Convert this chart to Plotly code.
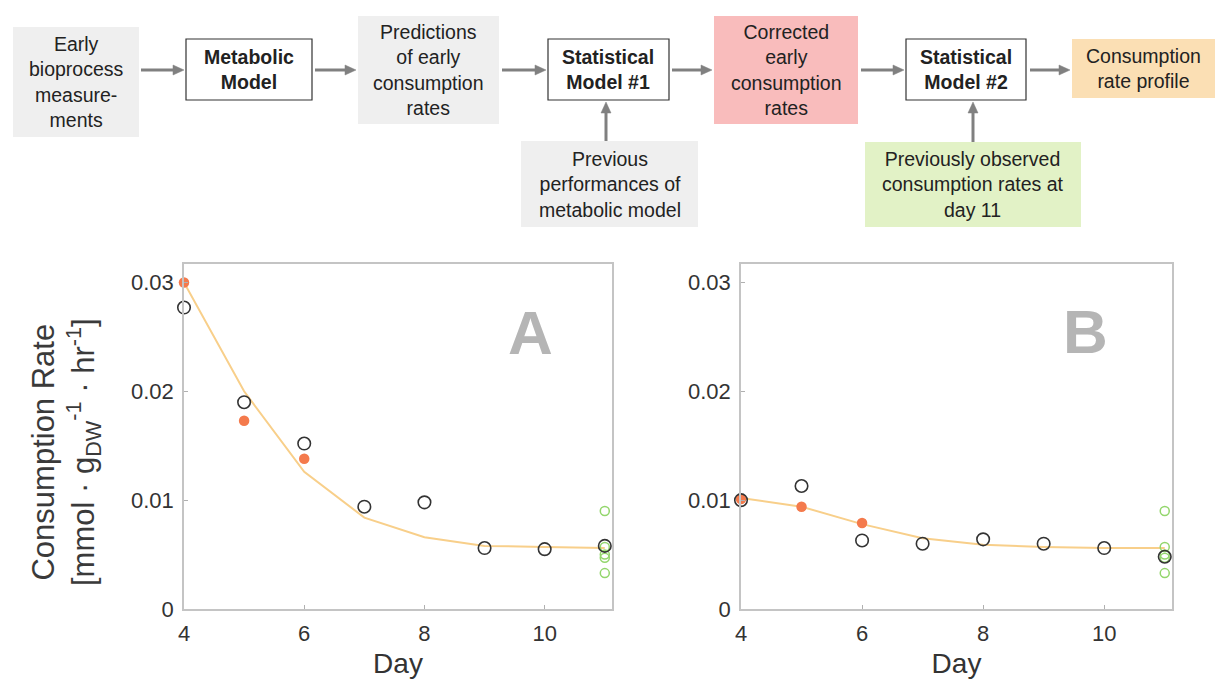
import plotly.graph_objects as go

W, H = 1215, 684

# ---------------- data ----------------
days = [4, 5, 6, 7, 8, 9, 10, 11]
early_days = [4, 5, 6]

obs_A = [0.0277, 0.0190, 0.0152, 0.0094, 0.0098, 0.0056, 0.0055, 0.0058]
corr_A = [0.0300, 0.0173, 0.0138]
fit_A = [0.0300, 0.0200, 0.0126, 0.0084, 0.0066, 0.0058, 0.0057, 0.0056]

obs_B = [0.0100, 0.0113, 0.0063, 0.0060, 0.0064, 0.0060, 0.0056, 0.0048]
corr_B = [0.0101, 0.0094, 0.0079]
fit_B = [0.0102, 0.0094, 0.0078, 0.0065, 0.0059, 0.0057, 0.0056, 0.0056]

prev_day11 = [0.0090, 0.0057, 0.0050, 0.0047, 0.0033]

x_ticks = [4, 6, 8, 10]
y_ticks = [0, 0.01, 0.02, 0.03]
y_ticklabels = ["0", "0.01", "0.02", "0.03"]

FONT = "Liberation Sans, Arial, sans-serif"


def px(x):
    return x / W


def py(y):
    return 1 - y / H


fig = go.Figure()

panels = [
    ("x", "y", obs_A, corr_A, fit_A),
    ("x2", "y2", obs_B, corr_B, fit_B),
]
for xa, ya, obs, corr, fit in panels:
    fig.add_trace(go.Scatter(x=days, y=fit, mode="lines", xaxis=xa, yaxis=ya,
                             line=dict(color="#f8cf8a", width=2), showlegend=False,
                             cliponaxis=False))
    fig.add_trace(go.Scatter(x=early_days, y=corr, mode="markers", xaxis=xa, yaxis=ya,
                             marker=dict(size=10.5, color="#f47a4c", line=dict(width=0)),
                             showlegend=False, cliponaxis=False))
    fig.add_trace(go.Scatter(x=[11] * len(prev_day11), y=prev_day11, mode="markers",
                             xaxis=xa, yaxis=ya,
                             marker=dict(size=9, color="#93d66c", symbol="circle-open",
                                         line=dict(width=1.5)),
                             showlegend=False, cliponaxis=False))
    fig.add_trace(go.Scatter(x=days, y=obs, mode="markers", xaxis=xa, yaxis=ya,
                             marker=dict(size=12.5, symbol="circle-open", color="#333333",
                                         line=dict(width=1.6)),
                             showlegend=False, cliponaxis=False))

axis_common = dict(showgrid=False, zeroline=False, showline=True, linecolor="#c4c4c4",
                   linewidth=1.5, mirror=True, ticks="inside", ticklen=4, tickcolor="#b0b0b0",
                   tickfont=dict(family=FONT, size=22, color="#333333"), automargin=False)

title_font = dict(family=FONT, size=28, color="#333333")
ydom = [py(609), py(264)]
fig.update_layout(
    xaxis=dict(domain=[px(184), px(612)], range=[4, 11.12], tickvals=x_ticks, **axis_common,
               ticklabelstandoff=4, title=dict(text="Day", font=title_font, standoff=8)),
    yaxis=dict(domain=ydom, range=[0, 0.0317], tickvals=y_ticks, ticktext=y_ticklabels,
               ticklabelstandoff=4, **axis_common),
    xaxis2=dict(domain=[px(741), px(1172)], range=[4, 11.12], tickvals=x_ticks, anchor="y2",
                ticklabelstandoff=4, **axis_common,
                title=dict(text="Day", font=title_font, standoff=8)),
    yaxis2=dict(domain=ydom, range=[0, 0.0317], tickvals=y_ticks, ticktext=y_ticklabels,
                ticklabelstandoff=4, anchor="x2", **axis_common),
)

# panel letters
fig.add_annotation(x=9.77, y=0.0254, xref="x", yref="y", text="<b>A</b>", showarrow=False,
                   xanchor="center", yanchor="middle",
                   font=dict(family=FONT, size=62, color="#b5b5b5"))
fig.add_annotation(x=9.69, y=0.0255, xref="x2", yref="y2", text="<b>B</b>", showarrow=False,
                   xanchor="center", yanchor="middle",
                   font=dict(family=FONT, size=62, color="#b5b5b5"))

# y-axis title
fig.add_annotation(x=px(66), y=py(452), xref="paper", yref="paper", showarrow=False,
                   textangle=-90, xanchor="center", yanchor="middle",
                   text="Consumption Rate<br>[mmol · g<sub>DW</sub><sup>-1</sup> · hr<sup>-1</sup>]",
                   font=dict(family=FONT, size=31, color="#3a3a3a"))

# ---------------- flowchart ----------------
shapes = []
boxes = [
    # x0, y0, x1, y1, fill, border, text, bold
    (13, 27, 139, 137, "#efefef", None, "Early<br>bioprocess<br>measure-<br>ments", False),
    (186, 39, 312, 100, "white", "#333333", "Metabolic<br>Model", True),
    (358, 16, 499, 124, "#efefef", None, "Predictions<br>of early<br>consumption<br>rates", False),
    (548, 39, 669, 100, "white", "#333333", "Statistical<br>Model #1", True),
    (521, 141, 698, 227, "#efefef", None, "Previous<br>performances of<br>metabolic model", False),
    (714, 16, 858, 124, "#f9bcbc", None, "Corrected<br>early<br>consumption<br>rates", False),
    (906, 39, 1026, 100, "white", "#333333", "Statistical<br>Model #2", True),
    (1072, 39, 1215, 98, "#fbdfb4", None, "Consumption<br>rate profile", False),
    (865, 142, 1081, 227, "#e2f2c6", None, "Previously observed<br>consumption rates at<br>day 11", False),
]
for x0, y0, x1, y1, fill, border, text, bold in boxes:
    shapes.append(dict(type="rect", xref="paper", yref="paper", x0=px(x0), x1=px(x1),
                       y0=py(y1), y1=py(y0), fillcolor=fill,
                       line=dict(color=border if border else fill, width=1.2 if border else 0),
                       layer="below"))
    fig.add_annotation(x=px((x0 + x1) / 2), y=py((y0 + y1) / 2), xref="paper", yref="paper",
                       text=f"<b>{text}</b>" if bold else text, showarrow=False, align="center",
                       xanchor="center", yanchor="middle",
                       font=dict(family=FONT, size=19.5, color="#222222"))

arrows = [
    # tail (x,y) -> head (x,y)
    (141, 70, 184, 70),
    (315, 70, 356, 70),
    (502, 70, 546, 70),
    (672, 70, 712, 70),
    (861, 70, 904, 70),
    (1030, 70, 1070, 70),
    (606, 141, 606, 102),
    (973, 142, 973, 102),
]
HEAD_L, HEAD_W = 11, 5
for tx, ty, hx, hy in arrows:
    dx, dy = hx - tx, hy - ty
    L = (dx * dx + dy * dy) ** 0.5
    ux, uy = dx / L, dy / L
    bx, by = hx - ux * HEAD_L, hy - uy * HEAD_L
    shapes.append(dict(type="line", xref="paper", yref="paper", x0=px(tx), y0=py(ty),
                       x1=px(bx + ux * 1), y1=py(by + uy * 1),
                       line=dict(color="#808080", width=3)))
    nx, ny = -uy, ux
    p1 = (bx + nx * HEAD_W, by + ny * HEAD_W)
    p2 = (bx - nx * HEAD_W, by - ny * HEAD_W)
    path = (f"M {px(hx)} {py(hy)} L {px(p1[0])} {py(p1[1])} "
            f"L {px(p2[0])} {py(p2[1])} Z")
    shapes.append(dict(type="path", xref="paper", yref="paper", path=path,
                       fillcolor="#808080", line=dict(color="#808080", width=0.5)))

fig.update_layout(shapes=shapes, width=W, height=H, margin=dict(l=0, r=0, t=0, b=0),
                  paper_bgcolor="white", plot_bgcolor="white", font=dict(family=FONT))

fig.write_html("out.html")
